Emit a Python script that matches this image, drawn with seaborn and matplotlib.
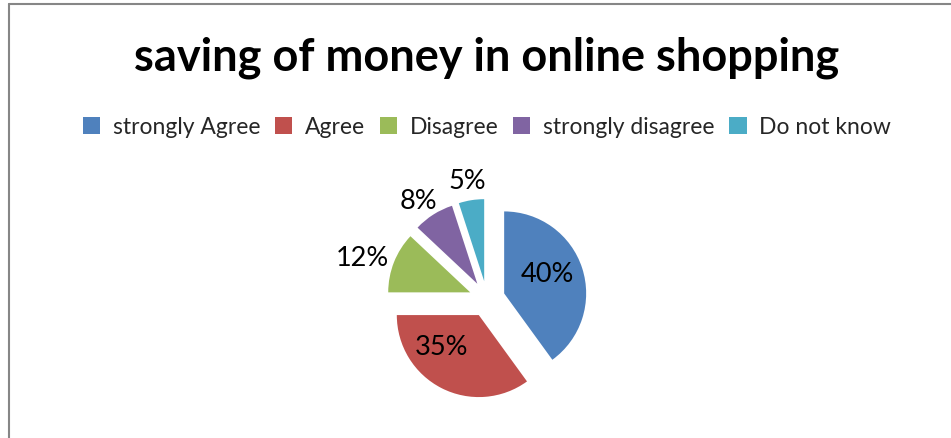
import matplotlib
matplotlib.use("Agg")
import matplotlib.pyplot as plt
from matplotlib.lines import Line2D
from matplotlib.patches import Patch
import numpy as np
import seaborn as sns

# Survey answers and their shares (percent)
categories = ["strongly Agree", "Agree", "Disagree", "strongly disagree", "Do not know"]
shares = [40, 35, 12, 8, 5]
title_text = "saving of money in online shopping"

sns.set_theme(style="white")
plt.rcParams["font.family"] = ["Lato", "DejaVu Sans"]

palette = sns.color_palette(["#4F81BD", "#C0504D", "#9BBB59", "#8064A2", "#4BACC6"])

W, H = 951, 439
fig = plt.figure(figsize=(W / 100, H / 100), dpi=100)
fig.patch.set_facecolor("white")

# Square axes for the pie, radius of 1 data unit = r_px pixels
cx, cy, r_px = 487, 300, 82
side = r_px * 3
ax = fig.add_axes([(cx - side / 2) / W, (H - cy - side / 2) / H, side / W, side / H])

explode_frac = 0.22
wedges, _ = ax.pie(
    shares,
    colors=palette,
    startangle=90,
    counterclock=False,
    explode=[explode_frac] * len(shares),
    radius=1.0,
    wedgeprops=dict(linewidth=0),
)
ax.set_xlim(-1.5, 1.5)
ax.set_ylim(-1.5, 1.5)
ax.set_aspect("equal")
ax.axis("off")

# Percentage labels: the two big slices inside, the small ones outside.
# Each label sits at a distance (in radii) from its slice tip, turned by a
# small angle (degrees) off the slice bisector.
label_dist = [0.58, 0.59, 1.38, 1.24, 1.24]
label_turn = [7.4, -22.9, 3.4, 2.7, 0.7]
for w, val, d, t in zip(wedges, shares, label_dist, label_turn):
    theta = np.deg2rad((w.theta1 + w.theta2) / 2 + t)
    px, py = w.center
    ax.text(px + d * np.cos(theta), py + d * np.sin(theta), f"{val}%",
            ha="center", va="center", fontsize=19.5, color="black")

# Title
fig.text(486.5 / W, 1 - 58 / H, title_text, ha="center", va="center",
         fontsize=32.5, fontweight="bold", color="black")

# Legend row
handles = [Patch(facecolor=c, edgecolor="none") for c in palette]
fig.legend(handles, categories, loc="center", bbox_to_anchor=(487 / W, 1 - 128 / H),
           ncol=5, frameon=False, fontsize=16.5, handlelength=0.75, handleheight=0.75,
           handletextpad=0.55, columnspacing=0.65, borderaxespad=0)

# Chart-area frame (top and left edges)
frame_kw = dict(color="#868686", linewidth=1.5, transform=fig.transFigure)
fig.add_artist(Line2D([8.5 / W, 1.0], [1 - 4.5 / H, 1 - 4.5 / H], **frame_kw))
fig.add_artist(Line2D([8.5 / W, 8.5 / W], [0.0, 1 - 4.5 / H], **frame_kw))

fig.savefig("out.png", dpi=100, facecolor="white")
